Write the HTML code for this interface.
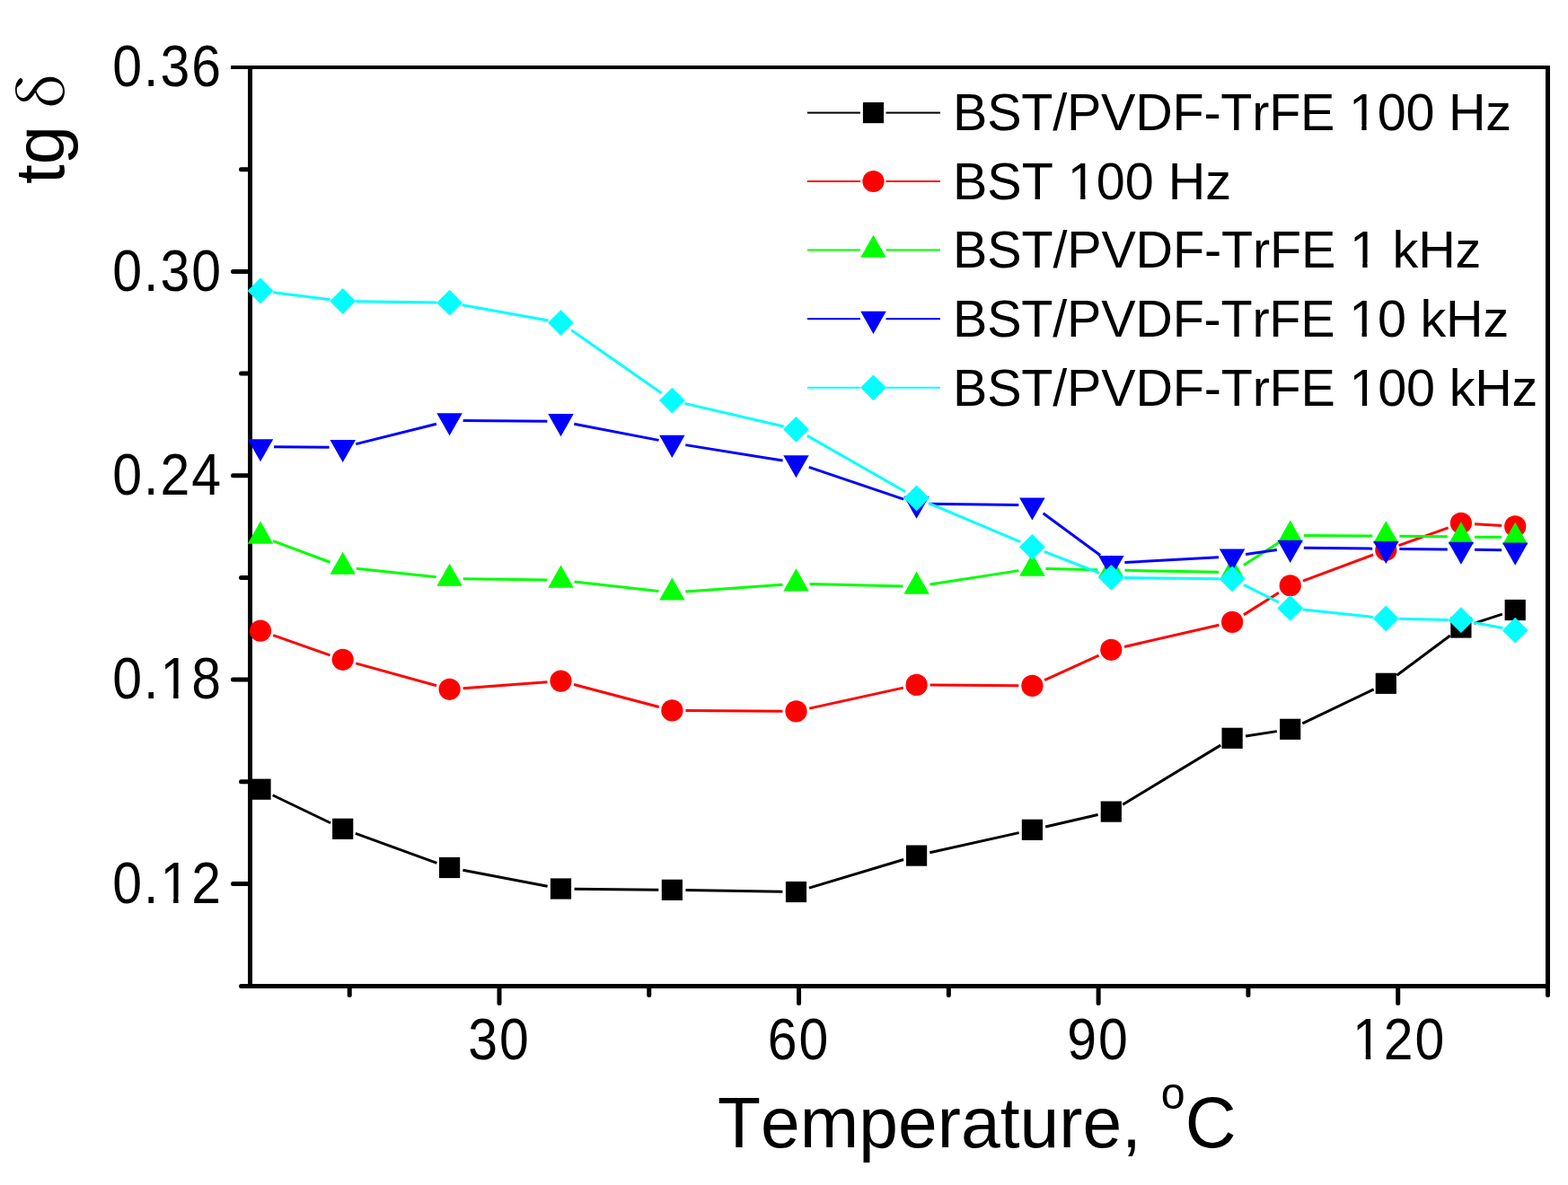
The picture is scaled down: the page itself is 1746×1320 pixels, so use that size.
<!DOCTYPE html>
<html><head><meta charset="utf-8"><title>tg delta vs temperature</title>
<style>html,body{margin:0;padding:0;background:#fff;overflow:hidden}svg{display:block}text{font-kerning:none;font-feature-settings:"kern" 0}</style></head>
<body><svg width="1746" height="1320" viewBox="0 0 1746 1320">
<defs><clipPath id="c0" clipPathUnits="userSpaceOnUse"><path clip-rule="evenodd" d="M-5000 -5000H5000V5000H-5000Z M-72.43 -6.41H-59.96V1.20H-72.43Z M-54.03 -6.41H-42.06V1.20H-54.03Z"/></clipPath><clipPath id="c1" clipPathUnits="userSpaceOnUse"><path clip-rule="evenodd" d="M-5000 -5000H5000V5000H-5000Z M-72.43 -6.41H-59.96V1.20H-72.43Z M-54.03 -6.41H-42.06V1.20H-54.03Z"/></clipPath><clipPath id="c2" clipPathUnits="userSpaceOnUse"><path clip-rule="evenodd" d="M-5000 -5000H5000V5000H-5000Z M-53.42 -6.41H-40.95V1.20H-53.42Z M-35.02 -6.41H-23.05V1.20H-35.02Z"/></clipPath><clipPath id="c3" clipPathUnits="userSpaceOnUse"><path clip-rule="evenodd" d="M-5000 -5000H5000V5000H-5000Z M1505.02 138.90H1516.28V146.00H1505.02Z M1521.60 138.90H1532.41V146.00H1521.60Z"/></clipPath><clipPath id="c4" clipPathUnits="userSpaceOnUse"><path clip-rule="evenodd" d="M-5000 -5000H5000V5000H-5000Z M1191.88 215.60H1203.14V222.70H1191.88Z M1208.46 215.60H1219.27V222.70H1208.46Z"/></clipPath><clipPath id="c5" clipPathUnits="userSpaceOnUse"><path clip-rule="evenodd" d="M-5000 -5000H5000V5000H-5000Z M1506.00 292.30H1517.26V299.40H1506.00Z M1522.58 292.30H1533.39V299.40H1522.58Z"/></clipPath><clipPath id="c6" clipPathUnits="userSpaceOnUse"><path clip-rule="evenodd" d="M-5000 -5000H5000V5000H-5000Z M1505.30 368.90H1516.56V376.00H1505.30Z M1521.88 368.90H1532.69V376.00H1521.88Z"/></clipPath><clipPath id="c7" clipPathUnits="userSpaceOnUse"><path clip-rule="evenodd" d="M-5000 -5000H5000V5000H-5000Z M1505.58 445.70H1516.84V452.80H1505.58Z M1522.16 445.70H1532.97V452.80H1522.16Z"/></clipPath></defs>
<rect width="1746" height="1320" fill="#fff"/>
<rect x="276" y="73" width="5" height="1028" fill="#000"/>
<rect x="1721" y="73" width="5" height="1028" fill="#000"/>
<rect x="257" y="73" width="1469" height="4" fill="#000"/>
<line x1="268.5" y1="1098.5" x2="1723" y2="1098.5" stroke="#000" stroke-width="5" stroke-linecap="round"/>
<path d="M259.5 302.38H278 M259.5 529.75H278 M259.5 757.12H278 M259.5 984.50H278 M268.5 188.69H278 M268.5 416.06H278 M268.5 643.44H278 M268.5 870.81H278 M556.00 1099V1117.5 M889.57 1099V1117.5 M1223.14 1099V1117.5 M1556.71 1099V1117.5 M389.22 1099V1108.5 M722.78 1099V1108.5 M1056.36 1099V1108.5 M1389.92 1099V1108.5 M1723.49 1099V1108.5" stroke="#000" stroke-width="5" stroke-linecap="round" fill="none"/>
<line x1="303.61" y1="885.74" x2="368.09" y2="916.76" stroke="#000000" stroke-width="3"/>
<line x1="395.89" y1="928.46" x2="486.41" y2="961.34" stroke="#000000" stroke-width="3"/>
<line x1="515.44" y1="969.31" x2="609.66" y2="987.19" stroke="#000000" stroke-width="3"/>
<line x1="639.60" y1="990.16" x2="733.30" y2="991.14" stroke="#000000" stroke-width="3"/>
<line x1="763.50" y1="991.54" x2="871.40" y2="993.26" stroke="#000000" stroke-width="3"/>
<line x1="900.96" y1="989.14" x2="1006.14" y2="957.46" stroke="#000000" stroke-width="3"/>
<line x1="1035.34" y1="949.80" x2="1134.66" y2="927.60" stroke="#000000" stroke-width="3"/>
<line x1="1164.12" y1="920.92" x2="1222.58" y2="907.48" stroke="#000000" stroke-width="3"/>
<line x1="1250.21" y1="896.27" x2="1359.19" y2="830.13" stroke="#000000" stroke-width="3"/>
<line x1="1387.02" y1="819.99" x2="1421.78" y2="814.61" stroke="#000000" stroke-width="3"/>
<line x1="1450.32" y1="805.78" x2="1529.68" y2="767.82" stroke="#000000" stroke-width="3"/>
<line x1="1555.41" y1="752.28" x2="1614.79" y2="708.02" stroke="#000000" stroke-width="3"/>
<line x1="1641.27" y1="694.35" x2="1672.83" y2="684.15" stroke="#000000" stroke-width="3"/>
<polygon points="278.40,867.60 301.60,867.60 301.60,890.80 278.40,890.80" fill="#000000"/>
<polygon points="370.10,911.70 393.30,911.70 393.30,934.90 370.10,934.90" fill="#000000"/>
<polygon points="489.00,954.90 512.20,954.90 512.20,978.10 489.00,978.10" fill="#000000"/>
<polygon points="612.90,978.40 636.10,978.40 636.10,1001.60 612.90,1001.60" fill="#000000"/>
<polygon points="736.80,979.70 760.00,979.70 760.00,1002.90 736.80,1002.90" fill="#000000"/>
<polygon points="874.90,981.90 898.10,981.90 898.10,1005.10 874.90,1005.10" fill="#000000"/>
<polygon points="1009.00,941.50 1032.20,941.50 1032.20,964.70 1009.00,964.70" fill="#000000"/>
<polygon points="1137.80,912.70 1161.00,912.70 1161.00,935.90 1137.80,935.90" fill="#000000"/>
<polygon points="1225.70,892.50 1248.90,892.50 1248.90,915.70 1225.70,915.70" fill="#000000"/>
<polygon points="1360.50,810.70 1383.70,810.70 1383.70,833.90 1360.50,833.90" fill="#000000"/>
<polygon points="1425.10,800.70 1448.30,800.70 1448.30,823.90 1425.10,823.90" fill="#000000"/>
<polygon points="1531.70,749.70 1554.90,749.70 1554.90,772.90 1531.70,772.90" fill="#000000"/>
<polygon points="1615.30,687.40 1638.50,687.40 1638.50,710.60 1615.30,710.60" fill="#000000"/>
<polygon points="1675.60,667.90 1698.80,667.90 1698.80,691.10 1675.60,691.10" fill="#000000"/>
<line x1="304.25" y1="707.69" x2="367.45" y2="729.81" stroke="#ff0000" stroke-width="3"/>
<line x1="396.25" y1="738.84" x2="486.05" y2="763.76" stroke="#ff0000" stroke-width="3"/>
<line x1="515.66" y1="766.68" x2="609.44" y2="759.72" stroke="#ff0000" stroke-width="3"/>
<line x1="639.10" y1="762.46" x2="733.80" y2="787.54" stroke="#ff0000" stroke-width="3"/>
<line x1="763.50" y1="791.51" x2="871.40" y2="792.29" stroke="#ff0000" stroke-width="3"/>
<line x1="901.25" y1="789.16" x2="1005.85" y2="766.14" stroke="#ff0000" stroke-width="3"/>
<line x1="1035.70" y1="763.02" x2="1134.30" y2="763.78" stroke="#ff0000" stroke-width="3"/>
<line x1="1163.14" y1="757.63" x2="1223.56" y2="730.07" stroke="#ff0000" stroke-width="3"/>
<line x1="1252.02" y1="720.43" x2="1357.38" y2="696.27" stroke="#ff0000" stroke-width="3"/>
<line x1="1384.88" y1="684.87" x2="1423.92" y2="660.33" stroke="#ff0000" stroke-width="3"/>
<line x1="1450.85" y1="647.04" x2="1529.15" y2="617.96" stroke="#ff0000" stroke-width="3"/>
<line x1="1557.52" y1="607.61" x2="1612.68" y2="587.89" stroke="#ff0000" stroke-width="3"/>
<line x1="1641.97" y1="583.70" x2="1672.13" y2="585.50" stroke="#ff0000" stroke-width="3"/>
<circle cx="290.00" cy="702.70" r="12.1" fill="#ff0000"/>
<circle cx="381.70" cy="734.80" r="12.1" fill="#ff0000"/>
<circle cx="500.60" cy="767.80" r="12.1" fill="#ff0000"/>
<circle cx="624.50" cy="758.60" r="12.1" fill="#ff0000"/>
<circle cx="748.40" cy="791.40" r="12.1" fill="#ff0000"/>
<circle cx="886.50" cy="792.40" r="12.1" fill="#ff0000"/>
<circle cx="1020.60" cy="762.90" r="12.1" fill="#ff0000"/>
<circle cx="1149.40" cy="763.90" r="12.1" fill="#ff0000"/>
<circle cx="1237.30" cy="723.80" r="12.1" fill="#ff0000"/>
<circle cx="1372.10" cy="692.90" r="12.1" fill="#ff0000"/>
<circle cx="1436.70" cy="652.30" r="12.1" fill="#ff0000"/>
<circle cx="1543.30" cy="612.70" r="12.1" fill="#ff0000"/>
<circle cx="1626.90" cy="582.80" r="12.1" fill="#ff0000"/>
<circle cx="1687.20" cy="586.40" r="12.1" fill="#ff0000"/>
<line x1="304.15" y1="602.58" x2="367.55" y2="626.22" stroke="#00ff00" stroke-width="3"/>
<line x1="396.71" y1="633.14" x2="485.59" y2="642.86" stroke="#00ff00" stroke-width="3"/>
<line x1="515.70" y1="644.72" x2="609.40" y2="646.08" stroke="#00ff00" stroke-width="3"/>
<line x1="639.51" y1="647.98" x2="733.39" y2="658.52" stroke="#00ff00" stroke-width="3"/>
<line x1="763.46" y1="659.10" x2="871.44" y2="651.20" stroke="#00ff00" stroke-width="3"/>
<line x1="901.60" y1="650.46" x2="1005.50" y2="652.94" stroke="#00ff00" stroke-width="3"/>
<line x1="1035.52" y1="650.98" x2="1134.48" y2="635.62" stroke="#00ff00" stroke-width="3"/>
<line x1="1164.50" y1="633.59" x2="1222.20" y2="634.71" stroke="#00ff00" stroke-width="3"/>
<line x1="1252.40" y1="635.29" x2="1357.00" y2="637.31" stroke="#00ff00" stroke-width="3"/>
<line x1="1384.82" y1="629.47" x2="1423.98" y2="604.43" stroke="#00ff00" stroke-width="3"/>
<line x1="1451.80" y1="596.40" x2="1528.20" y2="596.90" stroke="#00ff00" stroke-width="3"/>
<line x1="1558.40" y1="597.18" x2="1611.80" y2="597.82" stroke="#00ff00" stroke-width="3"/>
<line x1="1642.00" y1="598.13" x2="1672.10" y2="598.37" stroke="#00ff00" stroke-width="3"/>
<polygon points="290.00,580.57 304.25,605.67 275.75,605.67" fill="#00ff00"/>
<polygon points="381.70,614.77 395.95,639.87 367.45,639.87" fill="#00ff00"/>
<polygon points="500.60,627.77 514.85,652.87 486.35,652.87" fill="#00ff00"/>
<polygon points="624.50,629.57 638.75,654.67 610.25,654.67" fill="#00ff00"/>
<polygon points="748.40,643.47 762.65,668.57 734.15,668.57" fill="#00ff00"/>
<polygon points="886.50,633.37 900.75,658.47 872.25,658.47" fill="#00ff00"/>
<polygon points="1020.60,636.57 1034.85,661.67 1006.35,661.67" fill="#00ff00"/>
<polygon points="1149.40,616.57 1163.65,641.67 1135.15,641.67" fill="#00ff00"/>
<polygon points="1237.30,618.27 1251.55,643.37 1223.05,643.37" fill="#00ff00"/>
<polygon points="1372.10,620.87 1386.35,645.97 1357.85,645.97" fill="#00ff00"/>
<polygon points="1436.70,579.57 1450.95,604.67 1422.45,604.67" fill="#00ff00"/>
<polygon points="1543.30,580.27 1557.55,605.37 1529.05,605.37" fill="#00ff00"/>
<polygon points="1626.90,581.27 1641.15,606.37 1612.65,606.37" fill="#00ff00"/>
<polygon points="1687.20,581.77 1701.45,606.87 1672.95,606.87" fill="#00ff00"/>
<line x1="305.10" y1="497.63" x2="366.60" y2="498.17" stroke="#0000ff" stroke-width="3"/>
<line x1="396.35" y1="494.63" x2="485.95" y2="472.17" stroke="#0000ff" stroke-width="3"/>
<line x1="515.70" y1="468.61" x2="609.40" y2="469.29" stroke="#0000ff" stroke-width="3"/>
<line x1="639.33" y1="472.25" x2="733.57" y2="490.35" stroke="#0000ff" stroke-width="3"/>
<line x1="763.31" y1="495.61" x2="871.59" y2="513.09" stroke="#0000ff" stroke-width="3"/>
<line x1="900.80" y1="520.35" x2="1006.30" y2="556.15" stroke="#0000ff" stroke-width="3"/>
<line x1="1035.70" y1="561.21" x2="1134.30" y2="562.59" stroke="#0000ff" stroke-width="3"/>
<line x1="1161.57" y1="571.74" x2="1225.13" y2="618.46" stroke="#0000ff" stroke-width="3"/>
<line x1="1252.38" y1="626.55" x2="1357.02" y2="620.65" stroke="#0000ff" stroke-width="3"/>
<line x1="1387.04" y1="617.58" x2="1421.76" y2="612.42" stroke="#0000ff" stroke-width="3"/>
<line x1="1451.80" y1="610.36" x2="1528.20" y2="611.14" stroke="#0000ff" stroke-width="3"/>
<line x1="1558.40" y1="611.44" x2="1611.80" y2="611.96" stroke="#0000ff" stroke-width="3"/>
<line x1="1642.00" y1="612.30" x2="1672.10" y2="612.70" stroke="#0000ff" stroke-width="3"/>
<polygon points="275.75,489.13 304.25,489.13 290.00,514.23" fill="#0000ff"/>
<polygon points="367.45,489.93 395.95,489.93 381.70,515.03" fill="#0000ff"/>
<polygon points="486.35,460.13 514.85,460.13 500.60,485.23" fill="#0000ff"/>
<polygon points="610.25,461.03 638.75,461.03 624.50,486.13" fill="#0000ff"/>
<polygon points="734.15,484.83 762.65,484.83 748.40,509.93" fill="#0000ff"/>
<polygon points="872.25,507.13 900.75,507.13 886.50,532.23" fill="#0000ff"/>
<polygon points="1006.35,552.63 1034.85,552.63 1020.60,577.73" fill="#0000ff"/>
<polygon points="1135.15,554.43 1163.65,554.43 1149.40,579.53" fill="#0000ff"/>
<polygon points="1223.05,619.03 1251.55,619.03 1237.30,644.13" fill="#0000ff"/>
<polygon points="1357.85,611.43 1386.35,611.43 1372.10,636.53" fill="#0000ff"/>
<polygon points="1422.45,601.83 1450.95,601.83 1436.70,626.93" fill="#0000ff"/>
<polygon points="1529.05,602.93 1557.55,602.93 1543.30,628.03" fill="#0000ff"/>
<polygon points="1612.65,603.73 1641.15,603.73 1626.90,628.83" fill="#0000ff"/>
<polygon points="1672.95,604.53 1701.45,604.53 1687.20,629.63" fill="#0000ff"/>
<line x1="304.19" y1="325.78" x2="367.51" y2="333.72" stroke="#00ffff" stroke-width="3"/>
<line x1="396.00" y1="335.70" x2="486.30" y2="337.00" stroke="#00ffff" stroke-width="3"/>
<line x1="514.67" y1="339.74" x2="610.43" y2="357.06" stroke="#00ffff" stroke-width="3"/>
<line x1="636.23" y1="367.79" x2="736.67" y2="437.91" stroke="#00ffff" stroke-width="3"/>
<line x1="762.33" y1="449.35" x2="872.57" y2="475.05" stroke="#00ffff" stroke-width="3"/>
<line x1="898.92" y1="485.39" x2="1008.18" y2="547.71" stroke="#00ffff" stroke-width="3"/>
<line x1="1033.77" y1="560.37" x2="1136.23" y2="603.73" stroke="#00ffff" stroke-width="3"/>
<line x1="1162.73" y1="614.47" x2="1223.97" y2="638.23" stroke="#00ffff" stroke-width="3"/>
<line x1="1251.60" y1="643.57" x2="1357.80" y2="644.83" stroke="#00ffff" stroke-width="3"/>
<line x1="1384.88" y1="651.41" x2="1423.92" y2="670.99" stroke="#00ffff" stroke-width="3"/>
<line x1="1450.92" y1="678.95" x2="1529.08" y2="687.45" stroke="#00ffff" stroke-width="3"/>
<line x1="1557.60" y1="689.29" x2="1612.60" y2="690.41" stroke="#00ffff" stroke-width="3"/>
<line x1="1640.95" y1="693.38" x2="1673.15" y2="699.52" stroke="#00ffff" stroke-width="3"/>
<polygon points="290.00,309.60 304.40,324.00 290.00,338.40 275.60,324.00" fill="#00ffff"/>
<polygon points="381.70,321.10 396.10,335.50 381.70,349.90 367.30,335.50" fill="#00ffff"/>
<polygon points="500.60,322.80 515.00,337.20 500.60,351.60 486.20,337.20" fill="#00ffff"/>
<polygon points="624.50,345.20 638.90,359.60 624.50,374.00 610.10,359.60" fill="#00ffff"/>
<polygon points="748.40,431.70 762.80,446.10 748.40,460.50 734.00,446.10" fill="#00ffff"/>
<polygon points="886.50,463.90 900.90,478.30 886.50,492.70 872.10,478.30" fill="#00ffff"/>
<polygon points="1020.60,540.40 1035.00,554.80 1020.60,569.20 1006.20,554.80" fill="#00ffff"/>
<polygon points="1149.40,594.90 1163.80,609.30 1149.40,623.70 1135.00,609.30" fill="#00ffff"/>
<polygon points="1237.30,629.00 1251.70,643.40 1237.30,657.80 1222.90,643.40" fill="#00ffff"/>
<polygon points="1372.10,630.60 1386.50,645.00 1372.10,659.40 1357.70,645.00" fill="#00ffff"/>
<polygon points="1436.70,663.00 1451.10,677.40 1436.70,691.80 1422.30,677.40" fill="#00ffff"/>
<polygon points="1543.30,674.60 1557.70,689.00 1543.30,703.40 1528.90,689.00" fill="#00ffff"/>
<polygon points="1626.90,676.30 1641.30,690.70 1626.90,705.10 1612.50,690.70" fill="#00ffff"/>
<polygon points="1687.20,687.80 1701.60,702.20 1687.20,716.60 1672.80,702.20" fill="#00ffff"/>
<text transform="translate(248,96.3) scale(0.915,1)" font-family="Liberation Sans, sans-serif" font-size="64.4" letter-spacing="2.2" text-anchor="end">0.36</text>
<text transform="translate(248,323.7) scale(0.915,1)" font-family="Liberation Sans, sans-serif" font-size="64.4" letter-spacing="2.2" text-anchor="end">0.30</text>
<text transform="translate(248,551.0) scale(0.915,1)" font-family="Liberation Sans, sans-serif" font-size="64.4" letter-spacing="2.2" text-anchor="end">0.24</text>
<text transform="translate(248,778.4) scale(0.915,1)" font-family="Liberation Sans, sans-serif" font-size="64.4" letter-spacing="2.2" text-anchor="end" clip-path="url(#c0)">0.18</text>
<text transform="translate(248,1005.8) scale(0.915,1)" font-family="Liberation Sans, sans-serif" font-size="64.4" letter-spacing="2.2" text-anchor="end" clip-path="url(#c1)">0.12</text>
<text transform="translate(556.0,1180) scale(0.915,1)" font-family="Liberation Sans, sans-serif" font-size="64.4" letter-spacing="2.2" text-anchor="middle">30</text>
<text transform="translate(889.6,1180) scale(0.915,1)" font-family="Liberation Sans, sans-serif" font-size="64.4" letter-spacing="2.2" text-anchor="middle">60</text>
<text transform="translate(1223.1,1180) scale(0.915,1)" font-family="Liberation Sans, sans-serif" font-size="64.4" letter-spacing="2.2" text-anchor="middle">90</text>
<text transform="translate(1558.2,1180) scale(0.915,1)" font-family="Liberation Sans, sans-serif" font-size="64.4" letter-spacing="2.2" text-anchor="middle" clip-path="url(#c2)">120</text>
<text transform="translate(799,1278) scale(0.983,1)" font-family="Liberation Sans, sans-serif" font-size="80">Temperature, <tspan font-size="49.2" dy="-43">o</tspan><tspan dy="43">C</tspan></text>
<text transform="translate(71,205) rotate(-90)" font-family="Liberation Sans, sans-serif" font-size="78">tg <tspan x="85" font-family="Noto Serif CJK SC, Liberation Serif, serif" font-size="67">δ</tspan></text>
<rect x="899" y="124.60" width="59" height="2" fill="#000000"/>
<rect x="986.5" y="124.60" width="60.5" height="2" fill="#000000"/>
<polygon points="960.90,114.00 984.10,114.00 984.10,137.20 960.90,137.20" fill="#000000"/>
<text x="1061" y="144.8" font-family="Liberation Sans, sans-serif" font-size="57.5" letter-spacing="-0.22" clip-path="url(#c3)">BST/PVDF-TrFE 100 Hz</text>
<rect x="899" y="201.00" width="59" height="2" fill="#ff0000"/>
<rect x="986.5" y="201.00" width="60.5" height="2" fill="#ff0000"/>
<circle cx="972.50" cy="202.00" r="12.1" fill="#ff0000"/>
<text x="1061" y="221.5" font-family="Liberation Sans, sans-serif" font-size="57.5" letter-spacing="0" clip-path="url(#c4)">BST 100 Hz</text>
<rect x="899" y="277.50" width="59" height="2" fill="#00ff00"/>
<rect x="986.5" y="277.50" width="60.5" height="2" fill="#00ff00"/>
<polygon points="972.50,261.77 986.75,286.87 958.25,286.87" fill="#00ff00"/>
<text x="1061" y="298.2" font-family="Liberation Sans, sans-serif" font-size="57.5" letter-spacing="-0.15" clip-path="url(#c5)">BST/PVDF-TrFE 1 kHz</text>
<rect x="899" y="354.20" width="59" height="2" fill="#0000ff"/>
<rect x="986.5" y="354.20" width="60.5" height="2" fill="#0000ff"/>
<polygon points="958.25,346.83 986.75,346.83 972.50,371.93" fill="#0000ff"/>
<text x="1061" y="374.8" font-family="Liberation Sans, sans-serif" font-size="57.5" letter-spacing="-0.2" clip-path="url(#c6)">BST/PVDF-TrFE 10 kHz</text>
<rect x="899" y="430.80" width="59" height="2" fill="#00ffff"/>
<rect x="986.5" y="430.80" width="60.5" height="2" fill="#00ffff"/>
<polygon points="972.50,417.40 986.90,431.80 972.50,446.20 958.10,431.80" fill="#00ffff"/>
<text x="1061" y="451.6" font-family="Liberation Sans, sans-serif" font-size="57.5" letter-spacing="-0.18" clip-path="url(#c7)">BST/PVDF-TrFE 100 kHz</text>
</svg></body></html>
